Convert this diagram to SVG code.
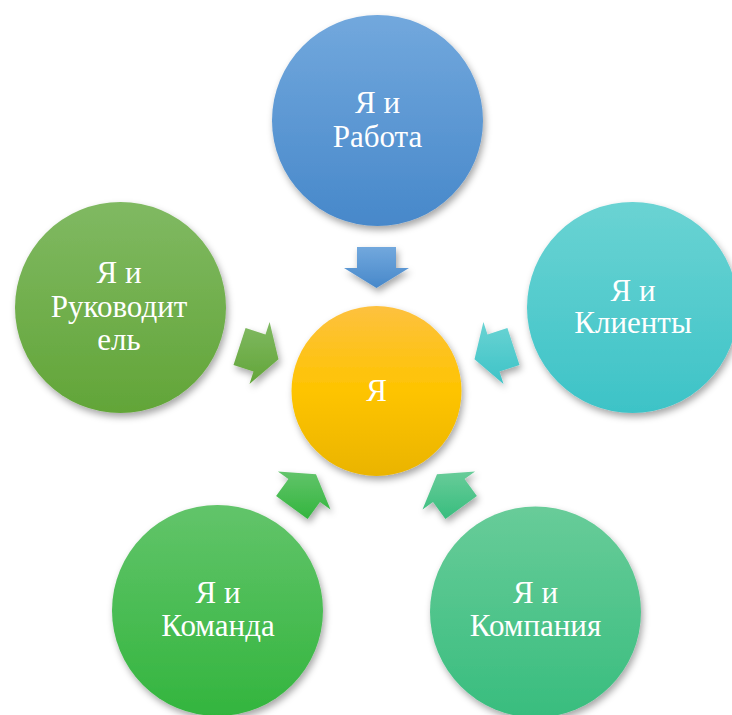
<svg xmlns="http://www.w3.org/2000/svg" width="732" height="715" viewBox="0 0 732 715">
<defs>
<filter id="sh" x="-20%" y="-20%" width="150%" height="150%">
<feDropShadow dx="2" dy="4" stdDeviation="3.5" flood-color="#000" flood-opacity="0.35"/>
</filter>
<linearGradient id="gBlue" x1="0" y1="0" x2="0" y2="1"><stop offset="0" stop-color="#72a8dd"/><stop offset="1" stop-color="#4788ca"/></linearGradient>
<linearGradient id="gYellow" x1="0" y1="0" x2="0" y2="1"><stop offset="0" stop-color="#fdc13f"/><stop offset="0.5" stop-color="#fec400"/><stop offset="1" stop-color="#eab400"/></linearGradient>
<linearGradient id="gLeaf" x1="0" y1="0" x2="0" y2="1"><stop offset="0" stop-color="#80b962"/><stop offset="1" stop-color="#62a538"/></linearGradient>
<linearGradient id="gCyan" x1="0" y1="0" x2="0" y2="1"><stop offset="0" stop-color="#6ad3d3"/><stop offset="1" stop-color="#3dc3c7"/></linearGradient>
<linearGradient id="gGreen" x1="0" y1="0" x2="0" y2="1"><stop offset="0" stop-color="#62c46a"/><stop offset="1" stop-color="#33b53e"/></linearGradient>
<linearGradient id="gMint" x1="0" y1="0" x2="0" y2="1"><stop offset="0" stop-color="#68cc99"/><stop offset="1" stop-color="#38bd7e"/></linearGradient>
</defs>
<style>
.lbl{font-family:'Liberation Serif',serif;font-size:31px;fill:#ffffff;text-anchor:middle}
.shape{filter:url(#sh)}
</style>
<rect width="732" height="715" fill="#ffffff"/>
<g id="connectors">
<polygon class="shape" fill="url(#gBlue)" points="357,247 396,247 396,268 409,268 376.5,288 344,268 357,268"/>
<polygon class="shape" fill="url(#gCyan)" points="507.4,328 519.5,365.1 499.5,371.5 503.5,383.9 474.5,359.2 483.4,322.1 487.5,334.4"/>
<polygon class="shape" fill="url(#gMint)" points="476.9,496 445.4,519 433,502 422.5,509.6 437,474.3 475.1,471.4 464.6,479.1"/>
<polygon class="shape" fill="url(#gGreen)" points="276.1,496 307.6,519 320,502 330.5,509.6 316,474.3 277.9,471.4 288.4,479.1"/>
<polygon class="shape" fill="url(#gLeaf)" points="245.6,328 233.5,365.1 253.5,371.5 249.5,383.9 278.5,359.2 269.6,322.1 265.5,334.4"/>
</g>
<g id="node-center">
<circle class="shape" cx="376.5" cy="391" r="85" fill="url(#gYellow)"/>
<text class="lbl" x="376.5" y="401" font-family="Liberation Serif">Я</text>
</g>
<g id="node-work">
<circle class="shape" cx="377.5" cy="120.5" r="105.5" fill="url(#gBlue)"/>
<text class="lbl" x="377.5" y="113" font-family="Liberation Serif">Я и</text>
<text class="lbl" x="377.5" y="147" font-family="Liberation Serif">Работа</text>
</g>
<g id="node-clients">
<circle class="shape" cx="632.5" cy="307.5" r="105.5" fill="url(#gCyan)"/>
<text class="lbl" x="633" y="301" font-family="Liberation Serif">Я и</text>
<text class="lbl" x="633" y="333" font-family="Liberation Serif">Клиенты</text>
</g>
<g id="node-company">
<circle class="shape" cx="535.5" cy="612" r="105.5" fill="url(#gMint)"/>
<text class="lbl" x="535.5" y="603" font-family="Liberation Serif">Я и</text>
<text class="lbl" x="535.5" y="636" font-family="Liberation Serif">Компания</text>
</g>
<g id="node-team">
<circle class="shape" cx="217.5" cy="610.5" r="105.5" fill="url(#gGreen)"/>
<text class="lbl" x="218" y="603" font-family="Liberation Serif">Я и</text>
<text class="lbl" x="218" y="636" font-family="Liberation Serif">Команда</text>
</g>
<g id="node-manager">
<circle class="shape" cx="120.5" cy="307.5" r="105.5" fill="url(#gLeaf)"/>
<text class="lbl" x="119" y="283" font-family="Liberation Serif">Я и</text>
<text class="lbl" x="119" y="317" font-family="Liberation Serif">Руководит</text>
<text class="lbl" x="119" y="350" font-family="Liberation Serif">ель</text>
</g>
</svg>
